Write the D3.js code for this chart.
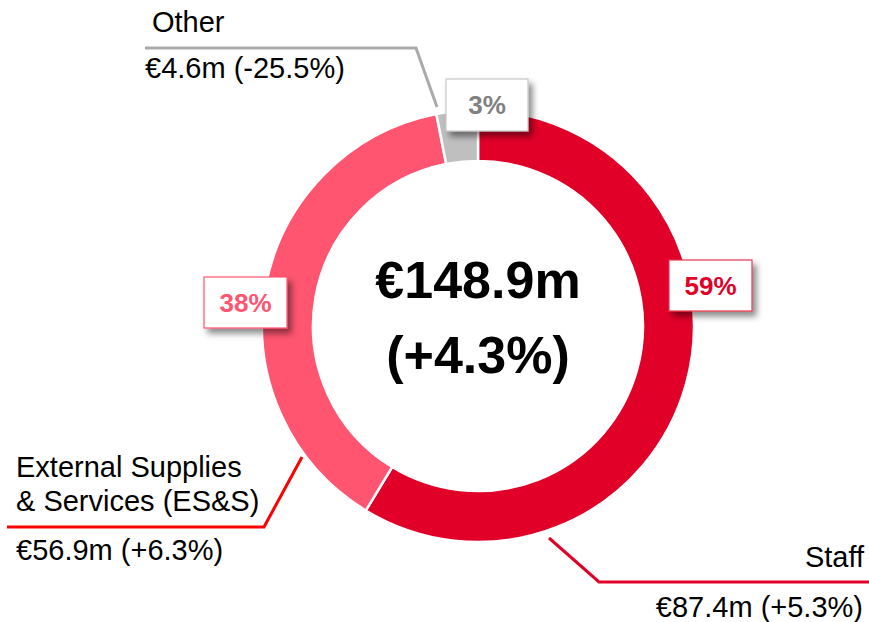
<!doctype html>
<html lang="en">
<head>
  <meta charset="utf-8">
  <title>Cost breakdown donut</title>
  <script src="https://d3js.org/d3.v7.min.js"></script>
  <style>
    body { margin: 0; background: #fff; }
    svg { display: block; font-family: Arial, "Liberation Sans", sans-serif; }
  </style>
</head>
<body>
  <svg id="chart" width="869" height="622"></svg>
  <script>
  // DATA
  let categories = ["Staff", "External Supplies & Services (ES&S)", "Other"];
  let values = [87.4, 56.9, 4.6];           // € m
  let changes = ["+5.3%", "+6.3%", "-25.5%"];
  let shares = ["59%", "38%", "3%"];
  let totalLabel = "€148.9m";
  let totalChange = "(+4.3%)";

  // COLORS
  let sliceColors = ["#e10028", "#ff5571", "#bfbfbf"];
  let pctColors = ["#e10028", "#ff5571", "#808080"];
  let boxBorders = ["#e8364f", "#ff5571", "#c8c8c8"];
  let leaderColors = ["#e10028", "#ff0000", "#aaaaaa"];

  // layout of the callouts (not data)
  let boxes = [
    { x: 669, y: 260, w: 83, h: 51 },
    { x: 204, y: 277, w: 83, h: 51 },
    { x: 446, y: 79, w: 82, h: 52 }
  ];
  let leaders = [
    [[549, 538], [599, 582], [869, 582]],
    [[302, 457], [264, 527], [7, 527]],
    [[437, 107], [416, 48], [145, 48]]
  ];
  let labels = [
    { lines: ["Staff"], x: 864, y: [567], anchor: "end", vx: 863, vy: 617 },
    { lines: ["External Supplies", "& Services (ES&S)"], x: 16, y: [477, 511], anchor: "start", vx: 16, vy: 560 },
    { lines: ["Other"], x: 152, y: [32], anchor: "start", vx: 145, vy: 78 }
  ];

  let svg = d3.select("#chart");
  let cx = 478, cy = 326;

  let defs = svg.append("defs");
  let f = defs.append("filter").attr("id", "shadow")
    .attr("x", "-20%").attr("y", "-20%").attr("width", "150%").attr("height", "160%");
  f.append("feDropShadow")
    .attr("dx", 4).attr("dy", 5).attr("stdDeviation", 3)
    .attr("flood-color", "#000").attr("flood-opacity", 0.45);

  let pie = d3.pie().sort(null).value(d => d)(values);
  let arc = d3.arc().innerRadius(165).outerRadius(216);

  let g = svg.append("g").attr("transform", "translate(" + cx + "," + cy + ")");
  g.selectAll("path")
    .data(pie)
    .enter().append("path")
      .attr("d", arc)
      .attr("fill", (d, i) => sliceColors[i])
      .attr("stroke", "#fff")
      .attr("stroke-width", 2.5);

  // leader lines
  let line = d3.line();
  svg.selectAll("path.leader")
    .data(leaders)
    .enter().append("path")
      .attr("class", "leader")
      .attr("d", line)
      .attr("fill", "none")
      .attr("stroke", (d, i) => leaderColors[i])
      .attr("stroke-width", 3);

  // category labels
  labels.forEach(function(l, i) {
    l.lines.forEach(function(t, j) {
      svg.append("text")
        .attr("x", l.x).attr("y", l.y[j])
        .attr("text-anchor", l.anchor)
        .attr("font-size", 29)
        .attr("fill", "#000")
        .text(t);
    });
    svg.append("text")
      .attr("x", l.vx).attr("y", l.vy)
      .attr("text-anchor", l.anchor)
      .attr("font-size", 29)
      .attr("fill", "#000")
      .text("€" + values[i].toFixed(1) + "m (" + changes[i] + ")");
  });

  // percentage callouts
  let cb = svg.selectAll("g.callout")
    .data(shares)
    .enter().append("g")
      .attr("class", "callout");
  cb.append("rect")
    .attr("x", (d, i) => boxes[i].x)
    .attr("y", (d, i) => boxes[i].y)
    .attr("width", (d, i) => boxes[i].w)
    .attr("height", (d, i) => boxes[i].h)
    .attr("fill", "#fff")
    .attr("stroke", (d, i) => boxBorders[i])
    .attr("stroke-width", 1.2)
    .attr("filter", "url(#shadow)");
  cb.append("text")
    .attr("x", (d, i) => boxes[i].x + boxes[i].w / 2)
    .attr("y", (d, i) => boxes[i].y + boxes[i].h / 2 + 9)
    .attr("text-anchor", "middle")
    .attr("font-size", 26)
    .attr("font-weight", "bold")
    .attr("fill", (d, i) => pctColors[i])
    .text(d => d);

  // centre total
  svg.append("text")
    .attr("x", cx).attr("y", 298)
    .attr("text-anchor", "middle")
    .attr("font-size", 52).attr("font-weight", "bold")
    .text(totalLabel);
  svg.append("text")
    .attr("x", cx).attr("y", 373)
    .attr("text-anchor", "middle")
    .attr("font-size", 52).attr("font-weight", "bold")
    .text(totalChange);
  </script>
</body>
</html>
